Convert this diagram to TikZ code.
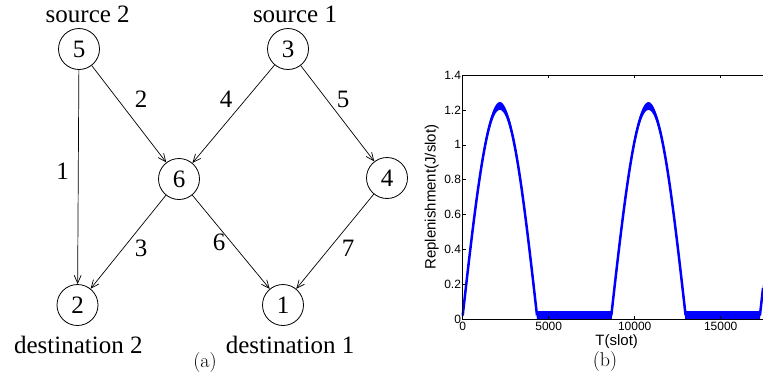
\documentclass[tikz,border=0pt]{standalone}
\usepackage{fontspec}
\usepackage{xcolor}
\usetikzlibrary{positioning, arrows.meta}
\newfontfamily\graphfont{Liberation Serif}
\newfontfamily\plotfont{Liberation Sans}

\begin{document}
\begin{tikzpicture}[x=1pt,y=-1pt,
    vtx/.style={circle,draw,line width=0.8pt,minimum size=41pt,inner sep=0pt,
                font=\graphfont\fontsize{25}{25}\selectfont},
    txt/.style={inner sep=0pt,font=\graphfont\fontsize{25}{25}\selectfont},
    arr/.style={-{Straight Barb[length=8pt,width=7pt]},line width=0.7pt},
    tick/.style={inner sep=0pt,font=\plotfont\fontsize{12}{12}\selectfont},
    axlab/.style={inner sep=0pt,font=\plotfont\fontsize{15}{15}\selectfont},
    capt/.style={inner sep=0pt,font=\fontsize{20}{20}\selectfont}]
  \useasboundingbox (0,0) rectangle (763,378);
  % (a) network
  \node[vtx] (n5) at (79,49){5};
  \node[vtx] (n3) at (288,49){3};
  \node[vtx] (n6) at (179,179){6};
  \node[vtx] (n4) at (387,178){4};
  \node[vtx] (n2) at (77.5,305){2};
  \node[vtx] (n1) at (283,305){1};
  \node[txt] (src2) at (87.7,14){source 2};
  \node[txt] (src1) at (295,14){source 1};
  \node[txt] (dst2) at (78.3,345){destination 2};
  \node[txt] (dst1) at (290,345){destination 1};
  \draw[arr](n5)--(n2);
  \draw[arr](n5)--(n6);
  \draw[arr](n3)--(n6);
  \draw[arr](n3)--(n4);
  \draw[arr](n6)--(n2);
  \draw[arr](n6)--(n1);
  \draw[arr](n4)--(n1);
  \node[txt] (l1) at (62.7,171.7){1};
  \node[txt] (l2) at (141,99){2};
  \node[txt] (l3) at (141,248){3};
  \node[txt] (l4) at (226,99){4};
  \node[txt] (l5) at (343,99){5};
  \node[txt] (l6) at (219,242){6};
  \node[txt] (l7) at (348,248){7};
  \node[capt] (capa) at (205,363){(a)};
  % (b) replenishment plot
  \begin{scope}[shift={(462.7,319.3)},x=17.2pt,y=174.5pt]
    \foreach \s/\e in {0/4.32,8.64/12.96,17.28/17.46}{
      \fill[blue] plot[domain=\s:\e,samples=60]
          ({\x},{1.20*sin(360*(\x-\s)/8.64)+0.045})
        -- plot[domain=\e:\s,samples=60]
          ({\x},{1.20*sin(360*(\x-\s)/8.64)}) -- cycle;
      \draw[blue,line width=2.5pt,line join=round]
        plot[domain=\s:\e,samples=60]({\x},{1.20*sin(360*(\x-\s)/8.64)+0.022});
    }
    \fill[blue](4.30,0) rectangle (8.68,0.048);
    \fill[blue](12.94,0) rectangle (17.30,0.048);
    \draw[line width=1pt](17.46,1.4) -- (0,1.4) -- (0,0) -- (17.46,0);
    \foreach \t/\lab in {0/0,5/5000,10/10000,15/15000}{
      \draw[line width=0.6pt](\t,0) -- ++(0,0.02);
      \draw[line width=0.6pt](\t,1.4) -- ++(0,-0.02);
      \node[tick,anchor=north] (xt\t) at ([yshift=-3pt]\t,0){\lab};
    }
    \foreach \v in {0,0.2,0.4,0.6,0.8,1,1.2,1.4}{
      \draw[line width=0.6pt](0,\v) -- ++(0.2,0);
      \node[tick,anchor=east] (yt\v) at ([xshift=-1.5pt]0,\v){\v};
    }
  \end{scope}
  \node[axlab,rotate=90] (ylab) at (431.7,197){Replenishment(J/slot)};
  \node[axlab] (xlab) at (616.7,341.7){T(slot)};
  \node[capt] (capb) at (605,361.7){(b)};
\end{tikzpicture}
\end{document}
